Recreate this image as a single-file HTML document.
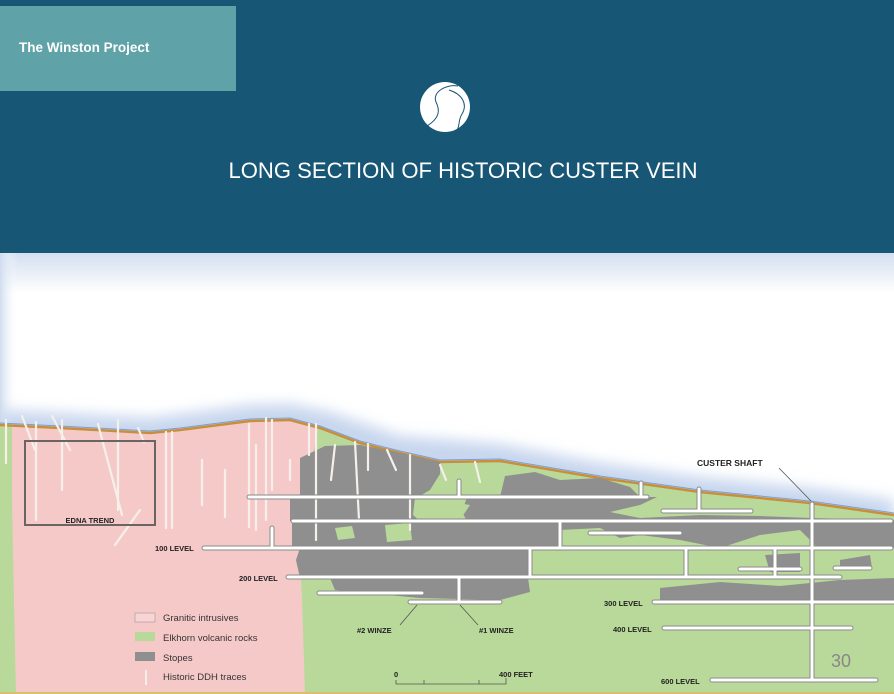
<!DOCTYPE html>
<html><head><meta charset="utf-8"><style>
html,body{margin:0;padding:0;width:894px;height:694px;overflow:hidden;background:#fff}
svg{display:block}
text{font-family:"Liberation Sans",sans-serif}
</style></head><body>
<svg width="894" height="694" viewBox="0 0 894 694" xmlns="http://www.w3.org/2000/svg">
<defs>
<linearGradient id="topg" x1="0" y1="0" x2="0" y2="1"><stop offset="0" stop-color="#d3dff0"/><stop offset="1" stop-color="#ffffff"/></linearGradient>
<linearGradient id="leftg" x1="0" y1="0" x2="1" y2="0"><stop offset="0" stop-color="#cfdcef"/><stop offset="1" stop-color="#ffffff" stop-opacity="0"/></linearGradient>
<filter id="blur"><feGaussianBlur stdDeviation="7"/></filter>
</defs>
<!-- header -->
<rect x="0" y="0" width="894" height="253" fill="#175674"/>
<rect x="0" y="6" width="236" height="85" fill="#5fa3a8"/>
<text x="19" y="52" font-size="13.5" font-weight="bold" fill="#fff">The Winston Project</text>
<circle cx="445" cy="107" r="25" fill="#fff"/>
<path d="M427 126 C440 118,440 110,436 102 C432 92,446 84,458 86" fill="none" stroke="#175674" stroke-width="1"/>
<path d="M449 90 C462 94,468 104,462 114 C458 120,460 126,457 130" fill="none" stroke="#175674" stroke-width="1"/>
<text x="463" y="178" font-size="22" fill="#fff" text-anchor="middle" textLength="469" lengthAdjust="spacingAndGlyphs">LONG SECTION OF HISTORIC CUSTER VEIN</text>
<!-- sky -->
<rect x="0" y="253" width="894" height="40" fill="url(#topg)"/>
<rect x="0" y="253" width="18" height="441" fill="url(#leftg)"/>
<path d="M0 410 L60 413 L150 418 L250 405 L290 404 L330 412 L400 436 L500 444 L600 463 L700 477 L810 488 L894 500 L894 530 L0 530Z" fill="#c7d6ee" filter="url(#blur)"/>
<!-- ground -->
<path d="M0 425 L60 428 L150 433 L180 430 L250 421 L290 420 L320 428 L360 443 L400 453 L440 462 L500 461 L600 478 L700 492 L810 503 L894 515 L894 694 L0 694Z" fill="#b9d99a"/>
<!-- granite -->
<path d="M12 426 L60 428 L150 433 L180 430 L250 421 L290 420 L318 428 L312 460 L298 520 L300 560 L302 600 L305 694 L16 694 L14 600 L12 500Z" fill="#f6c9c9"/>
<path d="M0 425 L60 428 L150 433 L180 430 L250 421 L290 420 L320 428 L360 443 L400 453 L440 462 L500 461 L600 478 L700 492 L810 503 L894 515" fill="none" stroke="#c98e3b" stroke-width="2.5"/>
<path d="M0 423 L60 426 L150 431 L180 428 L250 419 L290 418 L320 426 L360 441 L400 451 L440 460 L500 459 L600 476 L700 490 L810 501 L894 513" fill="none" stroke="#7aa0cf" stroke-width="1"/>
<!-- stopes -->
<g fill="#8f8f8f">
<path d="M300 458 L325 446 L360 445 L395 452 L440 462 L440 474 L430 490 L418 497 L300 497Z"/>
<path d="M505 476 L535 472 L560 480 L600 478 L630 487 L640 497 L500 497Z"/>
<path d="M290 497 L415 497 L413 515 L420 521 L290 521Z"/>
<path d="M467 497 L657 497 L640 505 L610 512 L640 518 L700 515 L760 516 L810 518 L894 520 L894 521 L467 521 L462 512Z"/>
<path d="M292 521 L894 521 L894 548 L818 548 L800 530 L760 535 L720 548 L680 540 L640 535 L620 538 L600 528 L560 530 L560 548 L292 548Z"/>
<path d="M300 548 L528 548 L528 578 L300 578 L296 560Z"/>
<path d="M330 578 L528 578 L530 592 L500 600 L420 598 L335 590Z"/>
<path d="M765 555 L800 553 L800 572 L770 572Z"/>
<path d="M840 560 L870 555 L872 568 L840 570Z"/>
<path d="M660 588 L720 582 L780 586 L840 580 L894 578 L894 600 L660 600Z"/>
</g>
<g fill="#b9d99a">
<path d="M335 528 L352 526 L355 538 L338 540Z"/>
<path d="M385 525 L410 523 L412 540 L387 542Z"/>
<path d="M440 500 L470 505 L460 520 L430 520Z"/>
</g>
<!-- DDH traces -->
<g stroke="#f5f0ea" stroke-width="2.2" fill="none" stroke-linecap="round">
<line x1="6" y1="420" x2="6" y2="463"/><line x1="22" y1="416" x2="35" y2="450"/>
<line x1="36" y1="422" x2="36" y2="520"/><line x1="52" y1="416" x2="70" y2="450"/>
<line x1="62" y1="420" x2="62" y2="490"/><line x1="98" y1="424" x2="122" y2="515"/>
<line x1="118" y1="420" x2="118" y2="510"/><line x1="138" y1="428" x2="144" y2="442"/>
<line x1="166" y1="432" x2="166" y2="528"/><line x1="172" y1="432" x2="172" y2="528"/>
<line x1="115" y1="545" x2="140" y2="510"/><line x1="202" y1="460" x2="202" y2="505"/>
<line x1="225" y1="470" x2="225" y2="517"/><line x1="249" y1="424" x2="249" y2="527"/>
<line x1="256" y1="445" x2="256" y2="530"/><line x1="266" y1="418" x2="266" y2="520"/>
<line x1="272" y1="420" x2="272" y2="490"/><line x1="290" y1="460" x2="290" y2="480"/>
<line x1="309" y1="424" x2="309" y2="455"/><line x1="316" y1="424" x2="316" y2="540"/>
<line x1="335" y1="445" x2="331" y2="480"/><line x1="355" y1="442" x2="359" y2="520"/>
<line x1="368" y1="444" x2="368" y2="470"/><line x1="387" y1="450" x2="396" y2="470"/>
<line x1="410" y1="455" x2="410" y2="530"/><line x1="440" y1="465" x2="446" y2="480"/>
<line x1="475" y1="462" x2="480" y2="482"/>
</g>
<!-- EDNA box -->
<rect x="25" y="441" width="130" height="84" fill="none" stroke="#6a6464" stroke-width="2"/>
<text x="90" y="523" font-size="7.5" font-weight="bold" text-anchor="middle" fill="#222">EDNA TREND</text>
<!-- levels -->
<g stroke="#8a8a8a" stroke-width="5" stroke-linecap="round" fill="none">
<line x1="249" y1="497" x2="647" y2="497"/><line x1="293" y1="521" x2="891" y2="521"/>
<line x1="204" y1="548" x2="891" y2="548"/><line x1="288" y1="577" x2="840" y2="577"/>
<line x1="319" y1="593" x2="422" y2="593"/><line x1="410" y1="602" x2="500" y2="602"/>
<line x1="654" y1="602" x2="894" y2="602"/><line x1="664" y1="628" x2="851" y2="628"/>
<line x1="712" y1="680" x2="876" y2="680"/><line x1="663" y1="511" x2="751" y2="511"/>
<line x1="812" y1="504" x2="812" y2="680"/><line x1="272" y1="528" x2="272" y2="548"/>
<line x1="459" y1="481" x2="459" y2="497"/><line x1="641" y1="483" x2="641" y2="497"/>
<line x1="699" y1="489" x2="699" y2="511"/><line x1="459" y1="577" x2="459" y2="602"/>
<line x1="560" y1="521" x2="560" y2="548"/><line x1="530" y1="548" x2="530" y2="577"/>
<line x1="686" y1="548" x2="686" y2="577"/><line x1="775" y1="548" x2="775" y2="577"/>
<line x1="590" y1="533" x2="680" y2="533"/><line x1="740" y1="569" x2="800" y2="569"/>
<line x1="835" y1="568" x2="870" y2="568"/>
</g>
<g stroke="#ffffff" stroke-width="3" stroke-linecap="round" fill="none">
<line x1="249" y1="497" x2="647" y2="497"/><line x1="293" y1="521" x2="891" y2="521"/>
<line x1="204" y1="548" x2="891" y2="548"/><line x1="288" y1="577" x2="840" y2="577"/>
<line x1="319" y1="593" x2="422" y2="593"/><line x1="410" y1="602" x2="500" y2="602"/>
<line x1="654" y1="602" x2="894" y2="602"/><line x1="664" y1="628" x2="851" y2="628"/>
<line x1="712" y1="680" x2="876" y2="680"/><line x1="663" y1="511" x2="751" y2="511"/>
<line x1="812" y1="504" x2="812" y2="680"/><line x1="272" y1="528" x2="272" y2="548"/>
<line x1="459" y1="481" x2="459" y2="497"/><line x1="641" y1="483" x2="641" y2="497"/>
<line x1="699" y1="489" x2="699" y2="511"/><line x1="459" y1="577" x2="459" y2="602"/>
<line x1="560" y1="521" x2="560" y2="548"/><line x1="530" y1="548" x2="530" y2="577"/>
<line x1="686" y1="548" x2="686" y2="577"/><line x1="775" y1="548" x2="775" y2="577"/>
<line x1="590" y1="533" x2="680" y2="533"/><line x1="740" y1="569" x2="800" y2="569"/>
<line x1="835" y1="568" x2="870" y2="568"/>
</g>
<g font-size="7.5" font-weight="bold" fill="#222">
<text x="155" y="551">100 LEVEL</text><text x="239" y="581">200 LEVEL</text>
<text x="604" y="606">300 LEVEL</text><text x="613" y="632">400 LEVEL</text>
<text x="661" y="684">600 LEVEL</text>
<text x="357" y="633">#2 WINZE</text><text x="479" y="633">#1 WINZE</text>
<text x="697" y="466" font-size="8.5">CUSTER SHAFT</text>
<text x="394" y="677">0</text><text x="499" y="677">400 FEET</text>
</g>
<g stroke="#555" stroke-width="0.8" fill="none">
<line x1="417" y1="605" x2="400" y2="625"/><line x1="460" y1="605" x2="478" y2="625"/>
<line x1="779" y1="468" x2="811" y2="501"/>
<path d="M396 680 L396 684 L506 684 L506 678 M424 684 L424 680 M479 684 L479 680"/>
</g>
<!-- legend -->
<rect x="135" y="613" width="20" height="9" fill="#f8d4d4" stroke="#999" stroke-width="0.6"/>
<rect x="135" y="632" width="20" height="9" fill="#b9d99a"/>
<rect x="135" y="652" width="20" height="9" fill="#8f8f8f"/>
<line x1="146" y1="670" x2="146" y2="685" stroke="#f5efe6" stroke-width="2"/>
<g font-size="9.5" fill="#333">
<text x="163" y="621">Granitic intrusives</text><text x="163" y="641">Elkhorn volcanic rocks</text>
<text x="163" y="661">Stopes</text><text x="163" y="680">Historic DDH traces</text>
</g>
<text x="831" y="667" font-size="18" fill="#888">30</text>
<rect x="0" y="692" width="894" height="2" fill="#d8c070"/>
</svg>
</body></html>
